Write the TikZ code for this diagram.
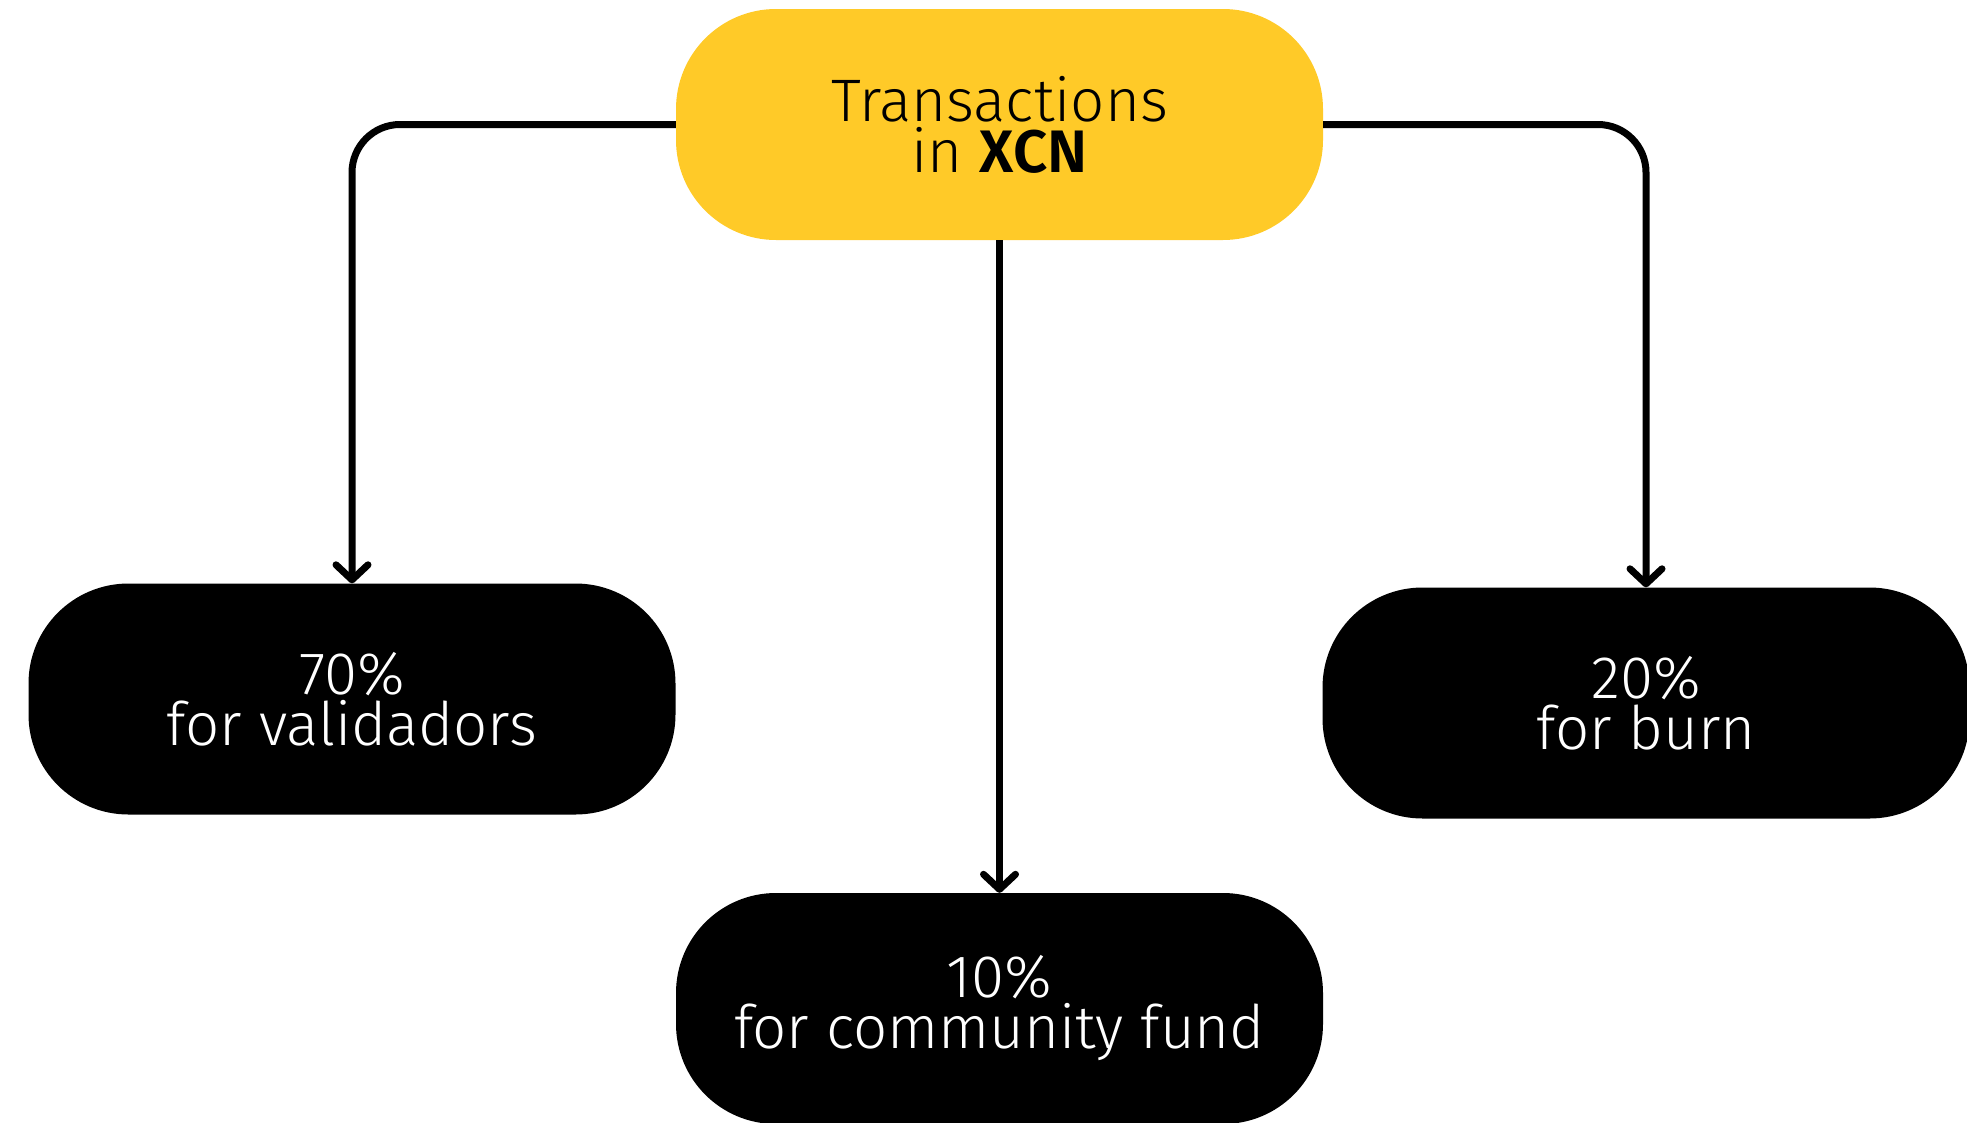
\documentclass[tikz,border=0pt]{standalone}
\usepackage{fontspec}
\setmainfont{Fira Sans Light}[BoldFont={Fira Sans SemiBold}]
\usetikzlibrary{arrows.meta}
\definecolor{xyellow}{HTML}{FFCA28}
\begin{document}
\begin{tikzpicture}[x=1pt,y=-1pt,
  box/.style={rectangle, rounded corners=100pt, minimum width=647pt, minimum height=231pt,
    inner sep=0pt, align=center, font=\fontsize{60}{51}\selectfont},
  conn/.style={line width=7pt, rounded corners=48pt,
    -{Straight Barb[length=15pt,width=32pt,round]}}]
\useasboundingbox (0,0) rectangle (1967,1122);
\node[box, fill=xyellow, text=black] (top) at (999.5,124.5) {Transactions\\in \textbf{XCN}};
\node[box, fill=black, text=white] (val) at (352,699) {\raisebox{-3pt}{\parbox{600pt}{\centering 70\%\\for validadors}}};
\node[box, fill=black, text=white] (burn) at (1646,703) {\raisebox{-3pt}{\parbox{600pt}{\centering 20\%\\for burn}}};
\node[box, fill=black, text=white] (comm) at (999.5,1008.5) {\raisebox{-3pt}{\parbox{600pt}{\centering 10\%\\for community fund}}};
\draw[conn] (top.west) -| (val.north);
\draw[conn] (top.east) -| (burn.north);
\draw[conn] (top.south) -- (comm.north);
\end{tikzpicture}
\end{document}
